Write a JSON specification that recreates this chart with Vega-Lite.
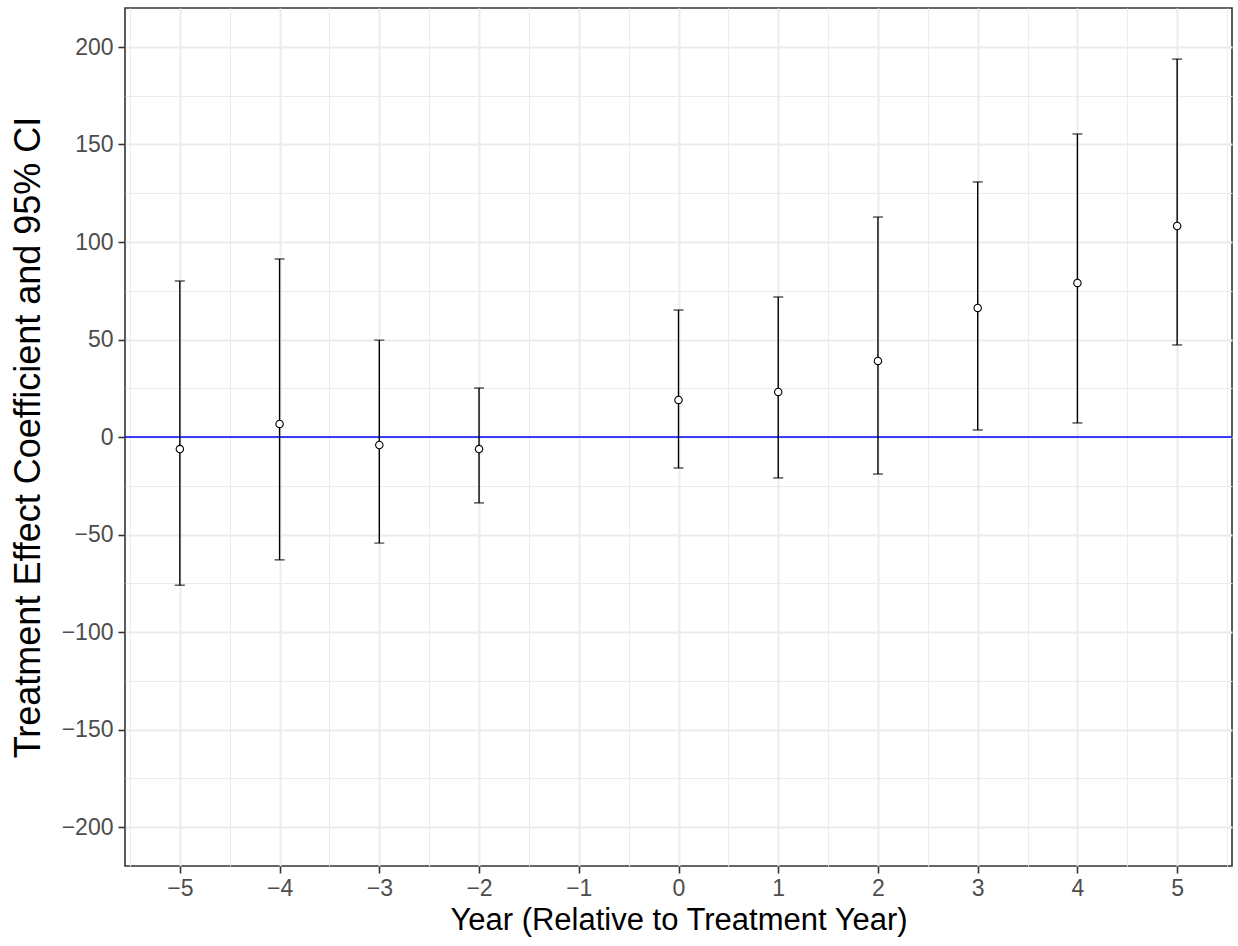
{
  "$schema": "https://vega.github.io/schema/vega-lite/v6.json",
  "autosize": "none",
  "width": 1107,
  "height": 858,
  "padding": {"left": 125, "top": 8, "right": 6, "bottom": 80},
  "background": "white",
  "config": {
    "font": "Liberation Sans",
    "view": {"stroke": "#333333", "strokeWidth": 1.6},
    "axis": {
      "labelFont": "Liberation Sans",
      "titleFont": "Liberation Sans",
      "labelFontSize": 23,
      "labelColor": "#4d4d4d",
      "titleFontWeight": "normal",
      "titleColor": "#000000",
      "tickColor": "#333333",
      "tickSize": 7,
      "tickWidth": 1.6,
      "domain": false,
      "gridColor": "#ebebeb",
      "labelOverlap": false,
      "labelFlush": false,
      "format": "d"
    }
  },
  "data": {
    "values": [
      {"year": -5, "estimate": -6.2, "lower": -76, "upper": 80},
      {"year": -4, "estimate": 6.7, "lower": -63, "upper": 91.3},
      {"year": -3, "estimate": -4.1, "lower": -54.4, "upper": 49.7},
      {"year": -2, "estimate": -6.2, "lower": -33.8, "upper": 25.1},
      {"year": 0, "estimate": 19, "lower": -15.9, "upper": 65.1},
      {"year": 1, "estimate": 23.1, "lower": -21, "upper": 71.8},
      {"year": 2, "estimate": 39, "lower": -19, "upper": 112.8},
      {"year": 3, "estimate": 66.2, "lower": 3.6, "upper": 130.8},
      {"year": 4, "estimate": 79, "lower": 7.2, "upper": 155.4},
      {"year": 5, "estimate": 108.2, "lower": 47.2, "upper": 193.8}
    ]
  },
  "encoding": {
    "x": {
      "field": "year",
      "type": "quantitative",
      "scale": {"domain": [-5.55, 5.55], "nice": false, "zero": false},
      "axis": {
        "title": "Year (Relative to Treatment Year)",
        "titleFontSize": 31,
        "values": [-5.5, -5, -4.5, -4, -3.5, -3, -2.5, -2, -1.5, -1, -0.5, 0, 0.5, 1, 1.5, 2, 2.5, 3, 3.5, 4, 4.5, 5, 5.5],
        "labelExpr": "datum.value % 1 === 0 ? datum.label : ''",
        "gridWidth": {"condition": {"test": "datum.value % 1 !== 0", "value": 0.95}, "value": 1.9},
        "tickOpacity": {"condition": {"test": "datum.value % 1 !== 0", "value": 0}, "value": 1},
        "labelPadding": 4,
        "titlePadding": 5
      }
    }
  },
  "layer": [
    {
      "mark": {"type": "rule", "color": "#0000FF", "strokeWidth": 1.3},
      "data": {"values": [{"y0": 0}]},
      "encoding": {
        "y": {
          "field": "y0",
          "type": "quantitative",
          "scale": {"domain": [-220, 220], "nice": false},
          "axis": {
            "title": "Treatment Effect Coefficient and 95% CI",
            "titleFontSize": 36,
            "values": [-200, -175, -150, -125, -100, -75, -50, -25, 0, 25, 50, 75, 100, 125, 150, 175, 200],
            "labelExpr": "datum.value % 50 === 0 ? datum.label : ''",
            "gridWidth": {"condition": {"test": "datum.value % 50 !== 0", "value": 0.95}, "value": 1.9},
            "tickOpacity": {"condition": {"test": "datum.value % 50 !== 0", "value": 0}, "value": 1},
            "labelPadding": 5,
            "titlePadding": 14
          }
        },
        "x": null
      }
    },
    {
      "mark": {"type": "rule", "color": "#000000", "strokeWidth": 1.4},
      "encoding": {
        "y": {"field": "lower", "type": "quantitative"},
        "y2": {"field": "upper"}
      }
    },
    {
      "mark": {"type": "tick", "orient": "horizontal", "color": "#000000", "size": 10, "thickness": 1.4},
      "encoding": {
        "y": {"field": "lower", "type": "quantitative"}
      }
    },
    {
      "mark": {"type": "tick", "orient": "horizontal", "color": "#000000", "size": 10, "thickness": 1.4},
      "encoding": {
        "y": {"field": "upper", "type": "quantitative"}
      }
    },
    {
      "mark": {"type": "point", "shape": "circle", "filled": true, "fill": "#ffffff", "stroke": "#000000", "strokeWidth": 1.1, "size": 55, "opacity": 1},
      "encoding": {
        "y": {"field": "estimate", "type": "quantitative"}
      }
    }
  ]
}
